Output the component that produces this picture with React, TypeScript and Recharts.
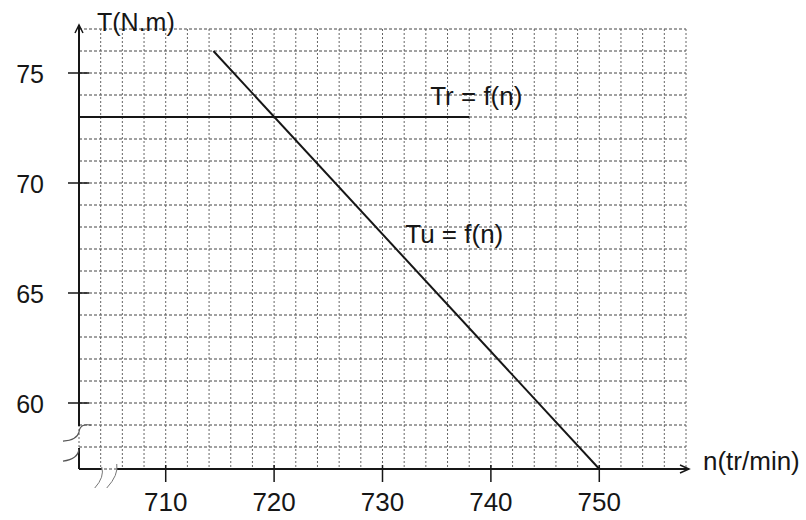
import React from 'react';
import { LineChart, Line, XAxis, YAxis, CartesianGrid, ReferenceDot, ReferenceLine } from 'recharts';

// speed axis n (tr/min) and torque axis T (N.m)
const nLabels = [710, 720, 730, 740, 750];
const tLabels = [60, 65, 70, 75];
const nDomain = [702, 758];
const tDomain = [57, 77];

// resisting torque Tr = f(n)
const trN = [702, 738];
const trT = [73, 73];

// motor torque Tu = f(n)
const tuN = [714.4, 750];
const tuT = [76, 57];

// where the axes are broken near the origin
const tBreak = [57.95, 58.95];
const nBreak = [704.1, 705.5];

const range = (a: number, b: number, step: number) => {
    const out: number[] = [];
    for (let v = a; v <= b + 1e-9; v += step) out.push(v);
    return out;
};
const gridN = range(nDomain[0], nDomain[1], 2);
const gridT = range(tDomain[0], tDomain[1], 1);

const trData = trN.map((n, i) => ({ n, Tr: trT[i] }));
const tuData = tuN.map((n, i) => ({ n, Tu: tuT[i] }));

const FONT = '"Liberation Sans", Arial, sans-serif';
const INK = '#161616';

const XTick = (props: any) => {
    const { x, y, payload } = props;
    if (!nLabels.includes(payload.value)) return <g />;
    return (
        <g>
            <line x1={x} x2={x} y1={y - 4} y2={y + 13} stroke={INK} strokeWidth={1.5} />
            <text x={x} y={y + 42} textAnchor="middle" fontSize={26} fontFamily={FONT} fill={INK}>
                {payload.value}
            </text>
        </g>
    );
};

const YTick = (props: any) => {
    const { x, y, payload } = props;
    if (!tLabels.includes(payload.value)) return <g />;
    return (
        <g>
            <line x1={x - 11} x2={x + 10} y1={y} y2={y} stroke={INK} strokeWidth={1.5} />
            <text x={x - 35} y={y + 10} textAnchor="end" fontSize={25} fontFamily={FONT} fill={INK}>
                {payload.value}
            </text>
        </g>
    );
};

const curveLabel = (txt: string) => (p: any) => {
    const vb = p.viewBox || {};
    return (
        <text x={vb.x} y={vb.y} fontSize={26} fontFamily={FONT} fill={INK}>
            {txt}
        </text>
    );
};

// squiggles of the broken torque axis, anchored on the upper end of the gap
const YBreak = (p: any) => {
    const { cx, cy } = p;
    return (
        <g fill="none" stroke="#555" strokeWidth={1.2}>
            <path d={`M${cx + 12} ${cy - 1} Q${cx + 1} ${cy - 3} ${cx} ${cy + 6} Q${cx - 2} ${cy + 14} ${cx - 16} ${cy + 15}`} />
            <path d={`M${cx - 16} ${cy + 35} Q${cx - 1} ${cy + 33} ${cx} ${cy + 23}`} />
        </g>
    );
};

// squiggles of the broken speed axis, anchored on the left end of the gap
const XBreak = (p: any) => {
    const { cx, cy } = p;
    return (
        <g fill="none" stroke="#777" strokeWidth={1}>
            <path d={`M${cx} ${cy - 2} Q${cx + 3} ${cy + 8} ${cx - 7} ${cy + 19}`} />
            <path d={`M${cx + 15} ${cy - 5} Q${cx + 17} ${cy + 6} ${cx + 5} ${cy + 19}`} />
        </g>
    );
};

const XArrow = (p: any) => {
    const { cx, cy } = p;
    return (
        <g stroke={INK} strokeWidth={1.5} fill="none">
            <line x1={cx} x2={cx + 3} y1={cy} y2={cy} strokeWidth={2} />
            <path d={`M${cx - 6} ${cy - 4} L${cx + 3} ${cy} L${cx - 6} ${cy + 4}`} />
        </g>
    );
};

const YArrow = (p: any) => {
    const { cx, cy } = p;
    return (
        <g stroke={INK} strokeWidth={1.5} fill="none">
            <line x1={cx} x2={cx} y1={cy} y2={cy - 4} strokeWidth={2} />
            <path d={`M${cx - 4} ${cy + 4} L${cx} ${cy - 4} L${cx + 4} ${cy + 4}`} />
        </g>
    );
};

const App: React.FC = () => {
    return (
        <div style={{ position: 'absolute', left: 0, top: 0, width: 806, height: 520, background: '#fff' }}>
            <LineChart width={806} height={520} margin={{ top: 29, right: 120, bottom: 0, left: 0 }}>
                <CartesianGrid vertical={false} stroke="#444" strokeDasharray="3 2" />
                <CartesianGrid horizontal={false} stroke="#666" strokeDasharray="2 2" />
                <XAxis
                    type="number"
                    dataKey="n"
                    domain={nDomain}
                    ticks={gridN}
                    interval={0}
                    height={51}
                    tickSize={0}
                    tickMargin={0}
                    tickLine={false}
                    tick={<XTick />}
                    axisLine={false}
                    allowDataOverflow
                    label={{
                        content: (p: any) => {
                            const vb = p.viewBox || {};
                            return (
                                <text x={vb.x + vb.width + 17} y={vb.y + 1} fontSize={26} fontFamily={FONT} fill={INK}>
                                    n(tr/min)
                                </text>
                            );
                        },
                    }}
                />
                <YAxis
                    type="number"
                    domain={tDomain}
                    ticks={gridT}
                    interval={0}
                    width={79}
                    tickSize={0}
                    tickMargin={0}
                    tickLine={false}
                    tick={<YTick />}
                    axisLine={false}
                    allowDataOverflow
                    label={{
                        content: (p: any) => {
                            const vb = p.viewBox || {};
                            return (
                                <text x={vb.x + vb.width + 18} y={vb.y + 2} fontSize={25} fontFamily={FONT} fill={INK}>
                                    T(N.m)
                                </text>
                            );
                        },
                    }}
                />
                {/* axes drawn as segments so they can be broken near the origin */}
                <ReferenceLine segment={[{ x: nDomain[0], y: tDomain[0] }, { x: nDomain[0], y: tBreak[0] }]} stroke={INK} strokeWidth={2} ifOverflow="visible" />
                <ReferenceLine segment={[{ x: nDomain[0], y: tBreak[1] }, { x: nDomain[0], y: tDomain[1] }]} stroke={INK} strokeWidth={2} ifOverflow="visible" />
                <ReferenceLine segment={[{ x: nDomain[0], y: tDomain[0] }, { x: nBreak[0], y: tDomain[0] }]} stroke={INK} strokeWidth={2} ifOverflow="visible" />
                <ReferenceLine segment={[{ x: nBreak[1], y: tDomain[0] }, { x: nDomain[1], y: tDomain[0] }]} stroke={INK} strokeWidth={2} ifOverflow="visible" />
                <Line data={trData} dataKey="Tr" type="linear" stroke={INK} strokeWidth={2} dot={false} isAnimationActive={false} />
                <Line data={tuData} dataKey="Tu" type="linear" stroke={INK} strokeWidth={2} dot={false} isAnimationActive={false} />
                <ReferenceDot x={734.4} y={73.55} r={0} stroke="none" label={{ content: curveLabel('Tr = f(n)') }} />
                <ReferenceDot x={732.1} y={67.27} r={0} stroke="none" label={{ content: curveLabel('Tu = f(n)') }} />
                <ReferenceDot x={nDomain[0]} y={tBreak[1]} r={0} shape={<YBreak />} />
                <ReferenceDot x={nBreak[0]} y={tDomain[0]} r={0} shape={<XBreak />} />
                <ReferenceDot x={nDomain[1]} y={tDomain[0]} r={0} shape={<XArrow />} />
                <ReferenceDot x={nDomain[0]} y={tDomain[1]} r={0} shape={<YArrow />} />
            </LineChart>
        </div>
    );
};

export default App;
